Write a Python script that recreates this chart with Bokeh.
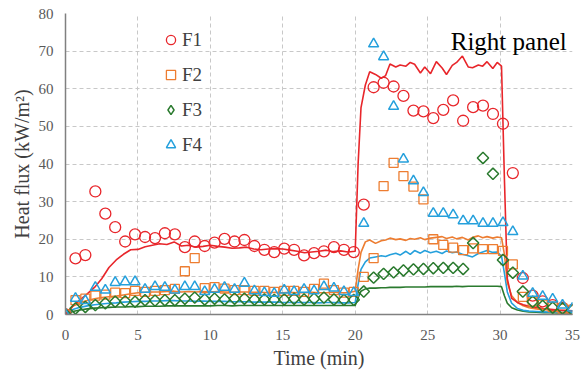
from bokeh.plotting import figure
from bokeh.models import Range1d, FixedTicker, Legend, LegendItem, Label
from bokeh.embed import file_html
from bokeh.resources import INLINE

# ---------------- data ----------------
marker_t = [0, 0.69, 1.37, 2.06, 2.75, 3.43, 4.12, 4.80, 5.49, 6.18, 6.86, 7.55, 8.24, 8.92,
            9.61, 10.29, 10.98, 11.67, 12.35, 13.04, 13.73, 14.41, 15.10, 15.78, 16.47, 17.16,
            17.84, 18.53, 19.22, 19.90, 20.59, 21.27, 21.96, 22.65, 23.33, 24.02, 24.71, 25.39,
            26.08, 26.76, 27.45, 28.14, 28.82, 29.51, 30.20, 30.88, 31.57, 32.25, 32.94, 33.63,
            34.31, 35.00]

f1_pts = [0, 14.9, 15.8, 32.7, 26.8, 23.2, 19.4, 21.3, 20.6, 20.3, 21.6, 21.3, 17.9, 19.4,
          18.2, 19.1, 20.1, 19.4, 19.8, 18.2, 17.2, 16.6, 17.5, 17.2, 15.7, 16.3, 16.8, 17.9,
          17.2, 16.6, 29.2, 60.4, 61.6, 60.6, 58.1, 54.2, 54.0, 52.2, 54.4, 56.9, 51.5, 55.1,
          55.5, 53.3, 50.7, 37.6, 9.7, 5.0, 3.5, 2.5, 1.8, 1.2]
f2_pts = [0, 3.8, 4.2, 5.0, 5.3, 5.8, 5.7, 6.3, 6.0, 6.3, 6.5, 6.8, 11.5, 15.0, 7.0, 7.3,
          6.9, 6.5, 6.5, 6.3, 6.3, 6.0, 6.3, 6.3, 6.0, 6.8, 8.2, 6.5, 5.8, 6.0, 10.0, 15.0,
          34.1, 40.3, 36.8, 34.0, 30.6, 20.0, 18.5, 17.8, 17.1, 17.6, 17.4, 17.4, 16.9, 13.3,
          4.7, 3.4, 2.6, 2.0, 1.6, 1.2]
f3_pts = [0, 1.6, 2.0, 2.5, 3.0, 3.4, 3.5, 3.4, 3.8, 3.7, 3.8, 3.8, 4.2, 4.5, 4.0, 4.2,
          4.0, 4.2, 4.2, 4.0, 4.0, 3.9, 4.0, 4.2, 4.0, 4.2, 4.5, 4.0, 3.9, 3.9, 6.1, 9.8,
          10.8, 11.2, 11.7, 12.0, 12.1, 12.3, 12.4, 12.4, 12.1, 19.0, 41.6, 37.4, 14.5, 11.1,
          6.1, 3.4, 2.3, 1.8, 1.6, 1.2]
f4_pts = [0, 4.3, 3.7, 7.2, 6.5, 8.5, 8.7, 8.7, 6.7, 7.4, 7.2, 6.5, 7.4, 7.4, 6.1, 6.7,
          7.2, 6.7, 8.3, 6.3, 5.8, 5.6, 6.5, 6.1, 6.7, 6.3, 7.4, 7.0, 6.1, 5.8, 24.2, 71.9,
          68.5, 55.3, 41.3, 35.5, 32.4, 26.9, 26.9, 26.5, 24.9, 24.9, 24.2, 24.2, 24.4, 22.0,
          10.2, 5.6, 4.8, 4.1, 2.5, 1.7]

line_t = [0, 0.5, 1, 1.5, 2, 2.5, 3, 3.5, 4, 4.5, 5, 5.5, 6, 6.5, 7, 7.5, 8, 8.5, 9, 9.5,
          10, 10.5, 11, 11.5, 12, 12.5, 13, 13.5, 14, 14.5, 15, 15.5, 16, 16.5, 17, 17.5,
          18, 18.5, 19, 19.5,
          20.0, 20.2, 20.4, 20.7, 21.0, 21.4, 21.8, 22.1, 22.4, 22.8, 23.1, 23.5, 23.8, 24.1,
          24.5, 24.8, 25.2, 25.6, 26.0, 26.3, 26.7, 27.0, 27.4, 27.8, 28.1, 28.5, 28.8, 29.1,
          29.5, 29.8, 30.1,
          30.3, 30.5, 30.8, 31.2, 31.6, 32, 32.5, 33, 33.5, 34, 34.5, 35]

f1_line = [0, 2.2, 3.9, 5.5, 7.2, 9.5, 12.5, 14.5, 16.0, 17.2, 17.3, 18.0, 18.4, 18.8, 18.6,
           19.3, 18.2, 18.4, 17.9, 18.1, 18.4, 18.1, 17.9, 17.6, 17.7, 17.9, 17.4, 17.2, 17.4,
           17.5, 17.4, 17.1, 16.8, 16.4, 16.6, 16.8, 17.1, 16.7, 16.9, 16.6,
           16.8, 40.0, 55.0, 61.0, 64.5, 63.8, 62.8, 63.5, 66.6, 65.8, 66.3, 66.0, 67.0, 66.5,
           64.2, 65.8, 64.0, 67.2, 65.5, 63.8, 66.2, 67.0, 68.7, 65.8, 65.6, 66.3, 66.0, 67.2,
           65.4, 67.0, 66.0,
           36.0, 9.5, 4.3, 3.2, 2.6, 2.2, 1.9, 1.6, 1.4, 1.2, 1.1, 1.0]
f2_line = [0, 2.2, 3.2, 3.7, 4.2, 4.5, 4.7, 4.9, 5.2, 5.5, 5.8, 5.9, 6.0, 6.0, 6.1, 6.2,
           6.0, 6.1, 6.0, 6.1, 6.0, 6.1, 6.0, 5.9, 6.0, 6.0, 5.9, 5.9, 5.8, 5.9, 5.8, 5.9,
           5.8, 5.8, 5.9, 5.8, 5.8, 5.9, 5.8, 5.8,
           6.2, 12.0, 16.5, 19.3, 19.8, 18.9, 19.6, 19.8, 20.3, 19.9, 20.1, 19.7, 20.2, 20.0,
           20.4, 19.9, 20.3, 20.5, 20.7, 20.2, 20.6, 20.1, 20.5, 19.8, 20.5, 20.9, 20.4, 20.7,
           20.3, 20.6, 20.4,
           16.0, 8.5, 5.0, 3.2, 2.3, 1.8, 1.5, 1.3, 1.2, 1.1, 1.0, 0.9]
f3_line = [0, 0.8, 1.2, 1.5, 1.7, 1.8, 1.9, 2.0, 2.0, 2.1, 2.1, 2.2, 2.2, 2.2, 2.3, 2.3,
           2.3, 2.3, 2.3, 2.3, 2.3, 2.4, 2.4, 2.3, 2.4, 2.4, 2.4, 2.4, 2.4, 2.4, 2.4, 2.4,
           2.4, 2.4, 2.4, 2.4, 2.4, 2.4, 2.4, 2.4,
           2.4, 4.5, 6.2, 6.8, 7.0, 7.0, 7.1, 7.1, 7.2, 7.2, 7.2, 7.3, 7.3, 7.3, 7.3, 7.3,
           7.4, 7.4, 7.4, 7.4, 7.4, 7.5, 7.4, 7.5, 7.5, 7.5, 7.5, 7.5, 7.5, 7.5, 7.4,
           5.0, 3.0, 1.8, 1.2, 0.9, 0.7, 0.6, 0.5, 0.5, 0.4, 0.4, 0.4]
f4_line = [0, 1.3, 1.9, 2.3, 2.6, 2.8, 3.0, 3.1, 3.3, 3.4, 3.5, 3.5, 3.6, 3.6, 3.7, 3.7,
           3.6, 3.6, 3.5, 3.6, 3.5, 3.5, 3.5, 3.4, 3.4, 3.4, 3.3, 3.3, 3.3, 3.3, 3.2, 3.2,
           3.2, 3.2, 3.2, 3.1, 3.2, 3.2, 3.1, 3.1,
           3.2, 8.0, 12.0, 14.0, 15.0, 15.3, 15.6, 15.4, 15.9, 16.3, 15.8, 16.8, 16.0, 17.0,
           16.3, 17.0, 16.4, 16.8, 16.2, 16.9, 16.4, 16.6, 16.0, 15.6, 15.3, 16.2, 16.6, 17.0,
           16.5, 16.6, 15.5,
           11.0, 6.0, 3.0, 1.6, 1.1, 0.9, 0.8, 0.7, 0.6, 0.6, 0.5, 0.5]

x_ticks = [0, 5, 10, 15, 20, 25, 30, 35]
y_ticks = [0, 10, 20, 30, 40, 50, 60, 70, 80]
series_names = ["F1", "F2", "F3", "F4"]

# ---------------- style ----------------
RED = "#e8262b"
ORANGE = "#ed7d31"
GREEN = "#2a7a2e"
BLUE = "#25a0dc"
SERIF = "Liberation Serif"

p = figure(frame_width=507, frame_height=301,
           min_border_left=65, min_border_right=10, min_border_top=13, min_border_bottom=46,
           x_range=Range1d(0, 35), y_range=Range1d(0, 80),
           output_backend="svg", toolbar_location=None)
p.background_fill_color = "white"
p.border_fill_color = "white"
p.outline_line_color = None

for ax in (p.xaxis, p.yaxis):
    ax.major_tick_line_color = None
    ax.minor_tick_line_color = None
    ax.major_tick_out = 0
    ax.major_tick_in = 0
    ax.minor_tick_out = 0
    ax.minor_tick_in = 0
    ax.axis_line_color = "#808080"
    ax.axis_line_width = 1.5
    ax.major_label_text_font = SERIF
    ax.major_label_text_font_size = "15px"
    ax.major_label_text_color = "#595959"
    ax.axis_label_text_font = SERIF
    ax.axis_label_text_font_size = "20px"
    ax.axis_label_text_font_style = "normal"
    ax.axis_label_text_color = "#404040"

p.xaxis.ticker = FixedTicker(ticks=x_ticks)
p.yaxis.ticker = FixedTicker(ticks=y_ticks)
p.xaxis.major_label_standoff = 15
p.yaxis.major_label_standoff = 12
p.xaxis.axis_label = "Time (min)"
p.yaxis.axis_label = "Heat flux (kW/m²)"
p.xaxis.axis_label_standoff = 4
p.yaxis.axis_label_standoff = 3

for g in (p.xgrid, p.ygrid):
    g.grid_line_color = "#c8c8c8"
    g.grid_line_dash = "4 3"
    g.grid_line_width = 1

# lines
p.line(line_t, f3_line, line_color=GREEN, line_width=1.6)
p.line(line_t, f4_line, line_color=BLUE, line_width=1.6)
p.line(line_t, f2_line, line_color=ORANGE, line_width=1.6)
p.line(line_t, f1_line, line_color=RED, line_width=1.6)

# markers
r1 = p.scatter(marker_t, f1_pts, marker="circle", size=11, fill_color=None,
               line_color=RED, line_width=1.3)
r2 = p.scatter(marker_t, f2_pts, marker="square", size=9, fill_color=None,
               line_color=ORANGE, line_width=1.3)
r3 = p.scatter(marker_t, f3_pts, marker="square", size=8, angle=0.785398, fill_color=None,
               line_color=GREEN, line_width=1.5)
r4 = p.scatter(marker_t, f4_pts, marker="triangle", size=10, fill_color=None,
               line_color=BLUE, line_width=1.5)
# legend swatch for the rotated-square (diamond) series
r3_key = p.scatter([float("nan")], [float("nan")], marker="diamond", size=12,
                   fill_color=None, line_color=GREEN, line_width=1.5)

legend = Legend(items=[LegendItem(label=n, renderers=[r]) for n, r in
                       zip(series_names, [r1, r2, r3_key, r4])],
                location=(94, 158), padding=0, margin=0, spacing=12,
                glyph_width=23, glyph_height=23, label_height=20, label_standoff=0,
                label_text_font=SERIF, label_text_font_size="19px",
                label_text_color="#404040", border_line_color=None,
                background_fill_alpha=0)
p.add_layout(legend)

p.add_layout(Label(x=34.6, y=72.6, text="Right panel", text_align="right",
                   text_baseline="alphabetic", text_font=SERIF,
                   text_font_size="25px", text_color="black"))

open("out.html", "w").write(file_html(p, INLINE))
